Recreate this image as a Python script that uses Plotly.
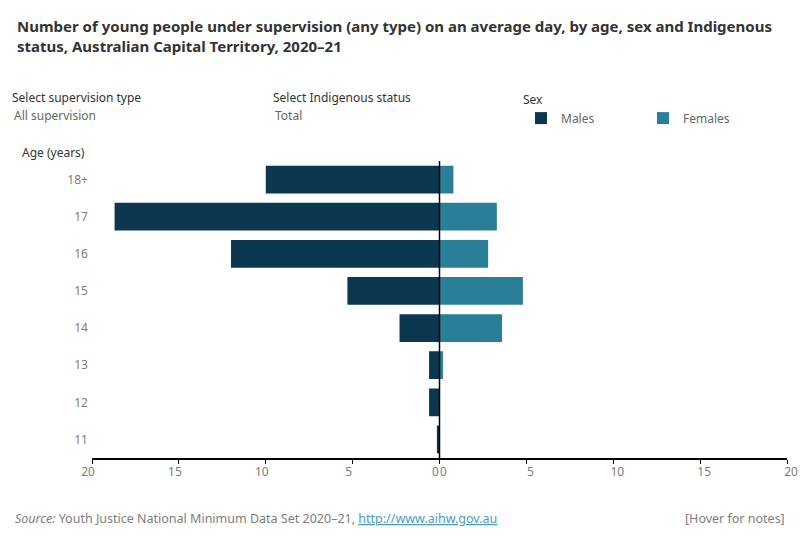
import plotly.graph_objects as go
from plotly.subplots import make_subplots

ages = ["11", "12", "13", "14", "15", "16", "17", "18+"]
males = [0.15, 0.6, 0.6, 2.3, 5.3, 12.0, 18.7, 10.0]
females = [0.0, 0.0, 0.2, 3.6, 4.8, 2.8, 3.3, 0.8]
tick_vals = [0, 5, 10, 15, 20]

MALE_C = "#0b3750"
FEMALE_C = "#2a7f98"
FONT = "Noto Sans"
GREY = "#7d7d7d"

W, H = 800, 550
L, R, T, B = 92, 13, 161, 92
PW, PH = W - L - R, H - T - B

def px(x):
    return (x - L) / PW

def py(y):
    return (H - B - y) / PH

fig = make_subplots(rows=1, cols=2, shared_yaxes=True, horizontal_spacing=0)

fig.add_trace(go.Bar(y=ages, x=males, orientation="h", name="Males",
                     marker=dict(color=MALE_C, line=dict(width=0)),
                     hovertemplate="Age %{y}<br>Males: %{x}<extra></extra>"), row=1, col=1)
fig.add_trace(go.Bar(y=ages, x=females, orientation="h", name="Females",
                     marker=dict(color=FEMALE_C, line=dict(width=0)),
                     hovertemplate="Age %{y}<br>Females: %{x}<extra></extra>"), row=1, col=2)

axis_common = dict(tickvals=tick_vals, showgrid=False, zeroline=False,
                   showline=True, linecolor="black", linewidth=1.5,
                   ticks="outside", ticklen=4, tickcolor="black", tickwidth=1,
                   ticklabelstandoff=-2,
                   tickfont=dict(family=FONT, size=12, color=GREY), fixedrange=True)
fig.update_xaxes(range=[20, 0], domain=[0, 0.5], ticklabelshift=4, **axis_common, row=1, col=1)
fig.update_xaxes(range=[0, 20], domain=[0.5, 1], ticklabelshift=4, **axis_common, row=1, col=2)
fig.update_yaxes(showgrid=False, zeroline=False, showline=False, ticks="",
                 tickfont=dict(family=FONT, size=12, color=GREY), ticksuffix=" ",
                 fixedrange=True)

fig.add_shape(type="line", xref="paper", yref="paper", x0=0.5, x1=0.5, y0=0, y1=1,
              line=dict(color="black", width=1.5))

ann = []
ann.append(dict(text="<b>Number of young people under supervision (any type) on an average day, by age, sex and Indigenous<br>status, Australian Capital Territory, 2020–21</b>",
                x=px(15), y=py(14), xanchor="left", yanchor="top", align="left",
                font=dict(family=FONT, size=15, color="#333333")))
ann.append(dict(text="Select supervision type", x=px(10), y=py(97), xanchor="left", yanchor="middle",
                font=dict(family=FONT, size=12, color="#333333")))
ann.append(dict(text="All supervision", x=px(12), y=py(115), xanchor="left", yanchor="middle",
                font=dict(family=FONT, size=12, color="#666666")))
ann.append(dict(text="Select Indigenous status", x=px(271), y=py(97), xanchor="left", yanchor="middle",
                font=dict(family=FONT, size=12, color="#333333")))
ann.append(dict(text="Total", x=px(273), y=py(115), xanchor="left", yanchor="middle",
                font=dict(family=FONT, size=12, color="#666666")))
ann.append(dict(text="Age (years)", x=px(20), y=py(153), xanchor="left", yanchor="middle",
                font=dict(family=FONT, size=12, color="#333333")))
ann.append(dict(text="<i>Source:</i> Youth Justice National Minimum Data Set 2020–21, <span style='color:#4a9cc4'><u>http://www.aihw.gov.au</u></span>",
                x=px(13), y=py(518), xanchor="left", yanchor="middle",
                font=dict(family=FONT, size=12.5, color="#7d7d7d")))
ann.append(dict(text="[Hover for notes]", x=px(787), y=py(518), xanchor="right", yanchor="middle",
                font=dict(family=FONT, size=12.5, color="#7d7d7d")))
for a in ann:
    a.update(xref="paper", yref="paper", showarrow=False)

fig.update_layout(
    width=W, height=H,
    margin=dict(l=L, r=R, t=T, b=B, autoexpand=False),
    paper_bgcolor="white", plot_bgcolor="white",
    bargap=0.25,
    annotations=ann,
    showlegend=True,
    legend=dict(orientation="h", xref="container", yref="container",
                x=521 / W, y=(H - 88) / H, xanchor="left", yanchor="top",
                title=dict(text="Sex", side="top", font=dict(family=FONT, size=12, color="#333333")),
                font=dict(family=FONT, size=12, color="#666666"),
                entrywidth=77, entrywidthmode="pixels", itemclick=False, itemdoubleclick=False,
                traceorder="normal", bgcolor="rgba(0,0,0,0)"),
    hovermode="closest",
)

fig.write_html("out.html")
